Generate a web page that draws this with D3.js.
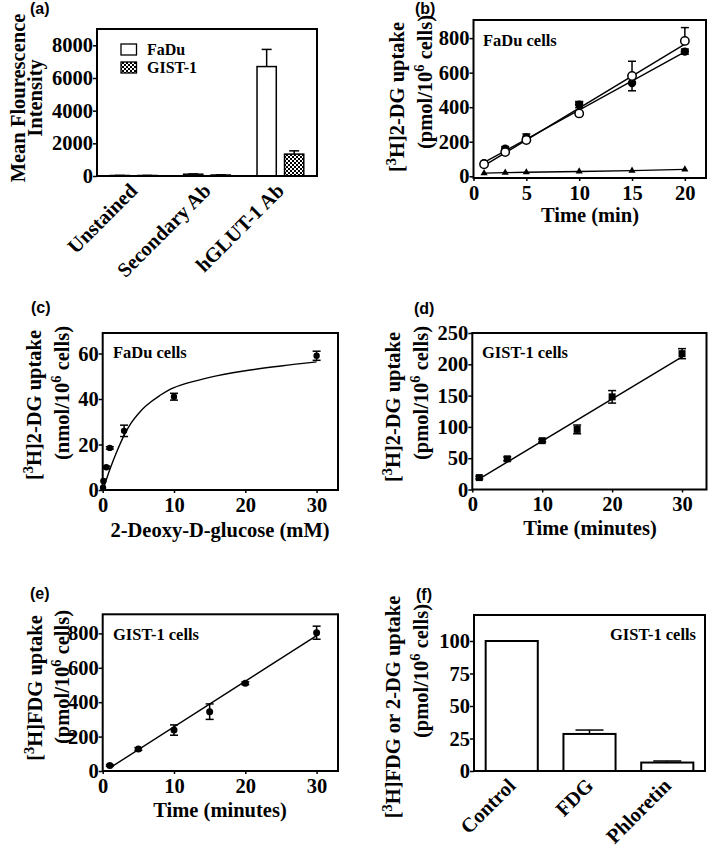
<!DOCTYPE html>
<html><head><meta charset="utf-8">
<script src="https://cdn.jsdelivr.net/npm/d3@7"></script>
<style>body{margin:0;background:#fff} svg{display:block}</style>
</head><body>
<svg id="chart" width="709" height="855"></svg>
<script>
// ---------- DATA ----------
// (a) Mean fluorescence
const aCategories = ["Unstained", "Secondary Ab", "hGLUT-1 Ab"];
const aSeries = ["FaDu", "GIST-1"];
const aFaDu = [30, 110, 6700];
const aFaDuErr = [5, 15, 1050];
const aGist = [30, 60, 1340];
const aGistErr = [5, 10, 200];
const aYTicks = [0, 2000, 4000, 6000, 8000];

// (b) FaDu 2-DG uptake vs time
const bTime = [1, 3, 5, 10, 15, 20];
const bFilled = [75, 160, 225, 415, 540, 722];
const bFilledErr = [8, 12, 20, 18, 45, 15];
const bOpen = [70, 140, 210, 364, 581, 784];
const bOpenErr = [6, 10, 15, 65, 85, 77];
const bLow = [18, 21, 23, 28, 33, 40];
const bFitX = [1, 20];
const bFitOpenY = [62, 765];
const bFitFilledY = [80, 720];
const bXTicks = [0, 5, 10, 15, 20];
const bYTicks = [0, 200, 400, 600, 800];

// (c) FaDu concentration dependence
const cConc = [0.05, 0.1, 0.5, 1, 3, 10, 30];
const cUptake = [1, 4, 10, 18.5, 26, 41, 59];
const cErr = [0, 0, 0.5, 0.5, 2.5, 1.5, 2];
const cFitX = [0, 0.5, 1, 2, 3, 4, 5, 6, 8, 10, 15, 20, 25, 30];
const cFitY = [0, 4.5, 9, 17, 24, 29.5, 33.5, 36.8, 41.5, 45, 49.5, 52.4, 54.5, 56.3];
const cXTicks = [0, 10, 20, 30];
const cYTicks = [0, 20, 40, 60];

// (d) GIST-1 2-DG uptake
const dTime = [1, 5, 10, 15, 20, 30];
const dUptake = [19, 49, 78, 96, 148, 217];
const dErr = [2, 3, 2, 7, 10, 8];
const dFitX = [1, 30];
const dFitY = [17, 212];
const dXTicks = [0, 10, 20, 30];
const dYTicks = [0, 50, 100, 150, 200, 250];

// (e) GIST-1 FDG uptake
const eTime = [1, 5, 10, 15, 20, 30];
const eUptake = [32, 128, 238, 345, 510, 804];
const eErr = [5, 8, 30, 45, 8, 38];
const eFitX = [1, 30];
const eFitY = [18, 787];
const eXTicks = [0, 10, 20, 30];
const eYTicks = [0, 200, 400, 600, 800];

// (f) inhibition
const fCategories = ["Control", "FDG", "Phloretin"];
const fValues = [100, 28.5, 6.5];
const fErr = [0, 3, 1.2];
const fYTicks = [0, 25, 50, 75, 100];

// ---------- DRAWING ----------
const svg = d3.select("#chart");
const SERIF = "'Liberation Serif','Times New Roman',serif";
const SANS = "'Liberation Sans',Arial,sans-serif";
const TICK_FS = 20.5, TITLE_FS = 20.5, NOTE_FS = 16.5;

const defs = svg.append("defs");
const pat = defs.append("pattern").attr("id", "checker").attr("patternUnits", "userSpaceOnUse")
  .attr("width", 4).attr("height", 4);
pat.append("rect").attr("width", 4).attr("height", 4).attr("fill", "#fff");
pat.append("rect").attr("width", 2).attr("height", 2).attr("fill", "#000");
pat.append("rect").attr("x", 2).attr("y", 2).attr("width", 2).attr("height", 2).attr("fill", "#000");

function panelLabel(txt, x, y) {
  svg.append("text").attr("x", x).attr("y", y).text(txt)
    .attr("font-family", SANS).attr("font-weight", "bold").attr("font-size", 16);
}

function frame(x0, y0, x1, y1) {
  svg.append("rect").attr("x", x0).attr("y", y0).attr("width", x1 - x0).attr("height", y1 - y0)
    .attr("fill", "none").attr("stroke", "#000").attr("stroke-width", 2);
}

function styleAxis(g) {
  g.select(".domain").remove();
  g.selectAll("line").attr("stroke", "#000").attr("stroke-width", 1.5);
  g.selectAll("text").attr("font-family", SERIF).attr("font-weight", "bold")
    .attr("font-size", TICK_FS).attr("fill", "#000");
}

function yAxis(y, x0, ticks) {
  const g = svg.append("g").attr("transform", `translate(${x0},0)`)
    .call(d3.axisLeft(y).tickValues(ticks).tickSize(4).tickPadding(0).tickFormat(d3.format("d")));
  styleAxis(g);
  return g;
}
function xAxis(x, y0, ticks) {
  const g = svg.append("g").attr("transform", `translate(0,${y0})`)
    .call(d3.axisBottom(x).tickValues(ticks).tickSize(3).tickPadding(4).tickFormat(d3.format("d")));
  styleAxis(g);
  return g;
}

// rotated y title: parts = [[text, isSup], ...]
function yTitle(parts, x, y) {
  const t = svg.append("text").attr("transform", `translate(${x},${y}) rotate(-90)`)
    .attr("text-anchor", "middle").attr("font-family", SERIF).attr("font-weight", "bold")
    .attr("font-size", TITLE_FS);
  parts.forEach(p => {
    const s = t.append("tspan").text(p[0]);
    if (p[1]) s.attr("baseline-shift", "super").attr("font-size", TITLE_FS * 0.7);
  });
}
function xTitle(txt, x, y) {
  svg.append("text").attr("x", x).attr("y", y).attr("text-anchor", "middle").text(txt)
    .attr("font-family", SERIF).attr("font-weight", "bold").attr("font-size", TITLE_FS);
}
function note(txt, x, y, anchor) {
  svg.append("text").attr("x", x).attr("y", y).attr("text-anchor", anchor || "start").text(txt)
    .attr("font-family", SERIF).attr("font-weight", "bold").attr("font-size", NOTE_FS);
}

function errBars(xs, ys, es, x, y, cap, dir) {
  const g = svg.append("g").attr("stroke", "#000").attr("stroke-width", 1.5);
  xs.forEach((xv, i) => {
    if (!es[i]) return;
    const cx = x(xv);
    const lo = dir === "up" ? ys[i] : ys[i] - es[i];
    const hi = ys[i] + es[i];
    g.append("line").attr("x1", cx).attr("x2", cx).attr("y1", y(lo)).attr("y2", y(hi));
    g.append("line").attr("x1", cx - cap).attr("x2", cx + cap).attr("y1", y(hi)).attr("y2", y(hi));
    if (dir !== "up")
      g.append("line").attr("x1", cx - cap).attr("x2", cx + cap).attr("y1", y(lo)).attr("y2", y(lo));
  });
}
function line(xs, ys, x, y, curve) {
  const gen = d3.line().x(d => x(d[0])).y(d => y(d[1]));
  if (curve) gen.curve(curve);
  svg.append("path").attr("d", gen(xs.map((v, i) => [v, ys[i]])))
    .attr("fill", "none").attr("stroke", "#000").attr("stroke-width", 1.4);
}
function rotLabels(cats, posFn, B) {
  cats.forEach(c => {
    svg.append("text").attr("transform", `translate(${posFn(c) + 5},${B + 16}) rotate(-45)`)
      .attr("text-anchor", "end").text(c).attr("font-family", SERIF).attr("font-weight", "bold")
      .attr("font-size", TICK_FS);
  });
}

// ---------- (a) ----------
{
  const L = 97, R = 317, T = 29, B = 176;
  panelLabel("(a)", 30, 14);
  const x0 = d3.scaleBand().domain(aCategories).range([L, R]).paddingInner(0.363).paddingOuter(0.18);
  const x1 = d3.scaleBand().domain(aSeries).range([0, x0.bandwidth()]).paddingInner(0.3);
  const y = d3.scaleLinear().domain([0, 9000]).range([B, T]);
  const vals = [aFaDu, aGist], errs = [aFaDuErr, aGistErr];
  aSeries.forEach((s, si) => {
    aCategories.forEach((c, ci) => {
      const bx = x0(c) + x1(s), v = vals[si][ci], e = errs[si][ci];
      const cx = bx + x1.bandwidth() / 2;
      svg.append("line").attr("x1", cx).attr("x2", cx).attr("y1", y(v)).attr("y2", y(v + e))
        .attr("stroke", "#000").attr("stroke-width", 1.5);
      svg.append("line").attr("x1", cx - 5).attr("x2", cx + 5).attr("y1", y(v + e)).attr("y2", y(v + e))
        .attr("stroke", "#000").attr("stroke-width", 1.5);
      svg.append("rect").attr("x", bx).attr("y", y(v)).attr("width", x1.bandwidth())
        .attr("height", B - y(v)).attr("fill", si === 0 ? "#fff" : "url(#checker)")
        .attr("stroke", "#000").attr("stroke-width", 1.5);
    });
  });
  frame(L, T, R, B);
  yAxis(y, L, aYTicks);
  rotLabels(aCategories, c => x0(c) + x0.bandwidth() / 2, B);
  yTitle([["Mean Flourescence"]], 25, 98);
  yTitle([["Intensity"]], 41.5, 98);
  // legend
  aSeries.forEach((s, i) => {
    const ly = 44 + i * 18;
    svg.append("rect").attr("x", 121).attr("y", ly).attr("width", 15.5).attr("height", 11)
      .attr("fill", i === 0 ? "#fff" : "url(#checker)").attr("stroke", "#000").attr("stroke-width", 1.3);
    svg.append("text").attr("x", 147).attr("y", ly + 11).text(s)
      .attr("font-family", SERIF).attr("font-weight", "bold").attr("font-size", 16);
  });
}

// ---------- (b) ----------
{
  const L = 473.5, R = 706, T = 20, B = 178;
  panelLabel("(b)", 415, 14);
  const x = d3.scaleLinear().domain([0, 22]).range([L, R]);
  const y = d3.scaleLinear().domain([-10, 905]).range([B, T]);
  line(bFitX, bFitOpenY, x, y);
  line(bFitX, bFitFilledY, x, y);
  line(bTime, bLow, x, y);
  errBars(bTime, bOpen, bOpenErr, x, y, 4, "up");
  errBars(bTime, bFilled, bFilledErr, x, y, 4);
  svg.append("g").selectAll("circle").data(bTime).join("circle")
    .attr("cx", d => x(d)).attr("cy", (d, i) => y(bFilled[i])).attr("r", 4.2).attr("fill", "#000");
  svg.append("g").selectAll("circle").data(bTime).join("circle")
    .attr("cx", d => x(d)).attr("cy", (d, i) => y(bOpen[i])).attr("r", 4.2)
    .attr("fill", "#fff").attr("stroke", "#000").attr("stroke-width", 1.5);
  const tri = d3.symbol().type(d3.symbolTriangle).size(22);
  svg.append("g").selectAll("path").data(bTime).join("path")
    .attr("transform", (d, i) => `translate(${x(d)},${y(bLow[i])})`).attr("d", tri).attr("fill", "#000");
  frame(L, T, R, B);
  yAxis(y, L, bYTicks);
  xAxis(x, B, bXTicks);
  note("FaDu cells", 483, 46);
  yTitle([["["], ["3", true], ["H]2-DG uptake"]], 404, 97);
  yTitle([["(pmol/10"], ["6", true], [" cells)"]], 432, 82);
  xTitle("Time (min)", 590, 222);
}

// ---------- (c) ----------
{
  const L = 102.7, R = 338, T = 333, B = 490;
  panelLabel("(c)", 31, 313);
  const x = d3.scaleLinear().domain([0, 33]).range([L, R]);
  const y = d3.scaleLinear().domain([0, 69]).range([B, T]);
  line(cFitX, cFitY, x, y, d3.curveCatmullRom.alpha(0.5));
  errBars(cConc, cUptake, cErr, x, y, 4);
  svg.append("g").selectAll("circle").data(cConc).join("circle")
    .attr("cx", d => x(d)).attr("cy", (d, i) => y(cUptake[i])).attr("r", 3.2).attr("fill", "#000");
  frame(L, T, R, B);
  yAxis(y, L, cYTicks);
  xAxis(x, B, cXTicks);
  note("FaDu cells", 113, 358);
  yTitle([["["], ["3", true], ["H]2-DG uptake"]], 41, 405);
  yTitle([["(nmol/10"], ["6", true], [" cells)"]], 69, 393);
  xTitle("2-Deoxy-D-glucose (mM)", 220, 537);
}

// ---------- (d) ----------
{
  const L = 472.3, R = 706.5, T = 333, B = 489.5;
  panelLabel("(d)", 414, 314);
  const x = d3.scaleLinear().domain([0, 33.5]).range([L, R]);
  const y = d3.scaleLinear().domain([0, 250]).range([B, T]);
  line(dFitX, dFitY, x, y);
  errBars(dTime, dUptake, dErr, x, y, 4);
  svg.append("g").selectAll("rect.m").data(dTime).join("rect")
    .attr("x", d => x(d) - 3.5).attr("y", (d, i) => y(dUptake[i]) - 3.5)
    .attr("width", 7).attr("height", 7).attr("fill", "#000");
  frame(L, T, R, B);
  yAxis(y, L, dYTicks);
  xAxis(x, B, dXTicks);
  note("GIST-1 cells", 482, 358);
  yTitle([["["], ["3", true], ["H]2-DG uptake"]], 400, 407);
  yTitle([["(pmol/10"], ["6", true], [" cells)"]], 428, 393);
  xTitle("Time (minutes)", 590, 535);
}

// ---------- (e) ----------
{
  const L = 102.7, R = 338, T = 614.3, B = 771;
  panelLabel("(e)", 30, 599);
  const x = d3.scaleLinear().domain([0, 33]).range([L, R]);
  const y = d3.scaleLinear().domain([0, 911]).range([B, T]);
  line(eFitX, eFitY, x, y);
  errBars(eTime, eUptake, eErr, x, y, 4);
  svg.append("g").selectAll("circle").data(eTime).join("circle")
    .attr("cx", d => x(d)).attr("cy", (d, i) => y(eUptake[i])).attr("r", 3.5).attr("fill", "#000");
  frame(L, T, R, B);
  yAxis(y, L, eYTicks);
  xAxis(x, B, eXTicks);
  note("GIST-1 cells", 113, 640);
  yTitle([["["], ["3", true], ["H]FDG uptake"]], 42, 688);
  yTitle([["(pmol/10"], ["6", true], [" cells)"]], 69, 677);
  xTitle("Time (minutes)", 220, 817);
}

// ---------- (f) ----------
{
  const L = 474, R = 705, T = 615, B = 771;
  panelLabel("(f)", 416, 600);
  const x = d3.scaleBand().domain(fCategories).range([L, R]).paddingInner(0.33).paddingOuter(0.15);
  const y = d3.scaleLinear().domain([0, 120]).range([B, T]);
  fCategories.forEach((c, i) => {
    const cx = x(c) + x.bandwidth() / 2, v = fValues[i], e = fErr[i];
    if (e) {
      svg.append("line").attr("x1", cx).attr("x2", cx).attr("y1", y(v)).attr("y2", y(v + e))
        .attr("stroke", "#000").attr("stroke-width", 1.5);
      svg.append("line").attr("x1", cx - 14).attr("x2", cx + 14).attr("y1", y(v + e)).attr("y2", y(v + e))
        .attr("stroke", "#000").attr("stroke-width", 1.5);
    }
    svg.append("rect").attr("x", x(c)).attr("y", y(v)).attr("width", x.bandwidth())
      .attr("height", B - y(v)).attr("fill", "#fff").attr("stroke", "#000").attr("stroke-width", 2);
  });
  frame(L, T, R, B);
  yAxis(y, L, fYTicks);
  rotLabels(fCategories, c => x(c) + x.bandwidth() / 2, B);
  note("GIST-1 cells", 696, 640, "end");
  yTitle([["["], ["3", true], ["H]FDG or 2-DG uptake"]], 400, 707);
  yTitle([["(pmol/10"], ["6", true], [" cells)"]], 428, 671);
}
</script>
</body></html>
